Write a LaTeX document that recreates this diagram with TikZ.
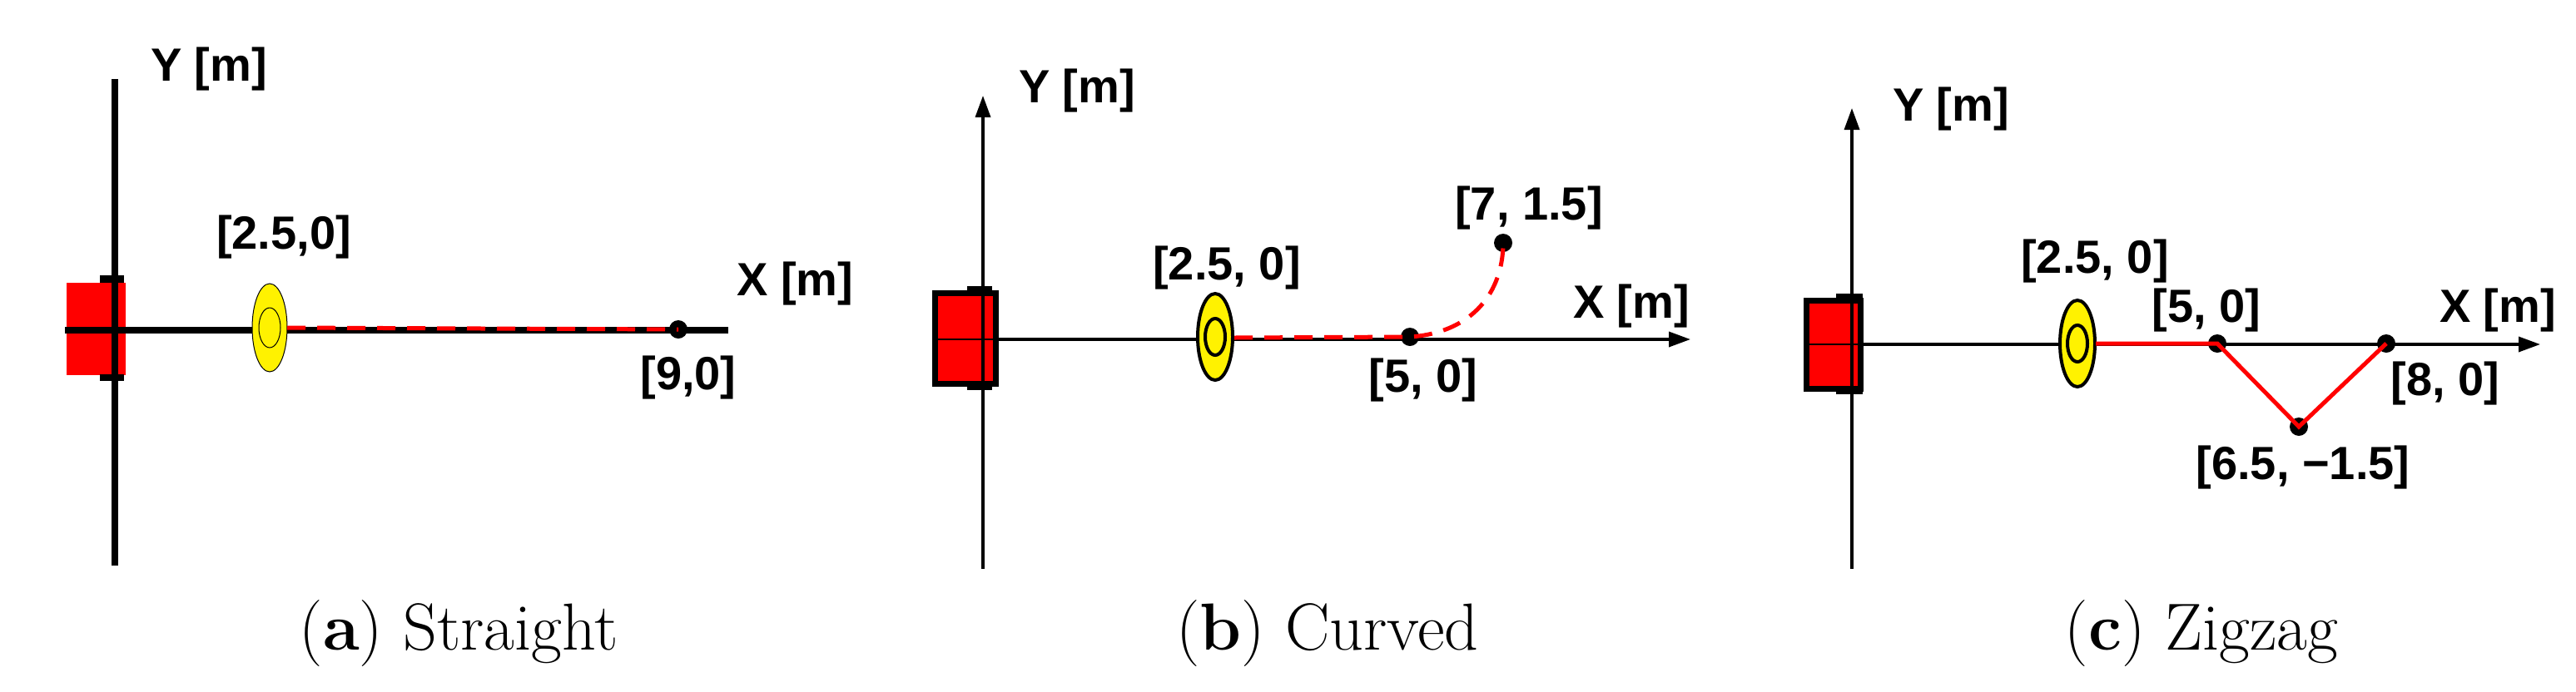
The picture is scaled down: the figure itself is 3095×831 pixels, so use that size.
\documentclass[tikz,border=0pt]{standalone}
\usepackage{fontspec}
\newfontfamily\lab{Liberation Sans}
\usetikzlibrary{arrows.meta}
\tikzset{
 lbl/.style={font=\lab\bfseries\fontsize{56}{60}\selectfont, inner sep=0pt},
 captxt/.style={font=\fontsize{80}{90}\selectfont, inner sep=0pt},
 dotp/.style={circle, fill=black, minimum size=22pt, inner sep=0pt},
 thinax/.style={line width=3.5pt, -{Triangle[length=26pt,width=18pt]}},
 rdash/.style={red, line width=5pt, dash pattern=on 22pt off 14pt},
 rsol/.style={red, line width=5pt},
 tab/.style={fill=black, draw=none},
}
\begin{document}
\begin{tikzpicture}[x=1pt,y=-1pt]
\useasboundingbox (0,0) rectangle (3095,831);
% ---------- (a)
\fill[red] (80,340) rectangle (151,451);
\fill[tab] (120,331) rectangle (149,340);
\fill[tab] (120,450) rectangle (149,458);
\draw[line width=8pt] (138,95) -- (138,680);
\draw[line width=8pt] (78,397) -- (875,397);
\draw[fill=yellow, line width=1pt] (324,394) ellipse (21 and 53);
\draw[line width=1pt] (324,394) ellipse (13 and 24);
\node[dotp] (a9) at (815,396) {};
\coordinate (ae) at (345,394);
\draw[rdash] (ae) -- (a9.center);
\node[lbl] (ay) at (251,83) {Y [m]};
\node[lbl] (ap) at (341,285) {[2.5,0]};
\node[lbl, anchor=west] (ax) at (885,341) {X [m]};
\node[lbl] (a9l) at (827,454) {[9,0]};
\node[captxt] (acap) at (551,762) {(\textbf{a}) Straight};
% ---------- (b)
\draw[fill=red, line width=7pt] (1123,352) rectangle (1196,461);
\fill[tab] (1162,344) rectangle (1192,352);
\fill[tab] (1162,461) rectangle (1192,469);
\draw[line width=2pt] (1123,408) -- (1196,408);
\draw[thinax] (1181,684) -- (1181,115);
\draw[thinax] (1196,408) -- (2031,408);
\draw[fill=yellow, line width=4pt] (1460,405) ellipse (21 and 52);
\draw[line width=4pt] (1460,405) ellipse (12 and 22);
\node[dotp] (b5) at (1694,405) {};
\node[dotp] (b7) at (1806,292) {};
\coordinate (be) at (1483,406);
\draw[rdash] (be) -- (b5.center) .. controls (1770,400) and (1806,350) .. (b7.center);
\node[lbl] (by) at (1294,109) {Y [m]};
\node[lbl] (bp) at (1474,322) {[2.5, 0]};
\node[lbl] (b7l) at (1837,250) {[7, 1.5]};
\node[lbl] (bx) at (1960,368) {X [m]};
\node[lbl] (b5l) at (1710,457) {[5, 0]};
\node[captxt] (bcap) at (1595,762) {(\textbf{b}) Curved};
% ---------- (c)
\draw[fill=red, line width=7pt] (2170,361) rectangle (2235,467);
\fill[tab] (2206,353) rectangle (2238,361);
\fill[tab] (2206,467) rectangle (2238,474);
\draw[line width=2pt] (2170,414) -- (2235,414);
\draw[thinax] (2225,684) -- (2225,130);
\draw[thinax] (2235,414) -- (3052,414);
\draw[fill=yellow, line width=4pt] (2496,413) ellipse (21 and 52);
\draw[line width=4pt] (2496,413) ellipse (12 and 22);
\node[dotp] (c5) at (2664,413) {};
\node[dotp] (c6) at (2762,513) {};
\node[dotp] (c8) at (2867,413) {};
\coordinate (ce) at (2518,413);
\draw[rsol] (ce) -- (c5.center) -- (c6.center) -- (c8.center);
\node[lbl] (cy) at (2344,131) {Y [m]};
\node[lbl] (cp) at (2517,314) {[2.5, 0]};
\node[lbl] (c5l) at (2651,373) {[5, 0]};
\node[lbl] (cx) at (3001,373) {X [m]};
\node[lbl] (c8l) at (2938,461) {[8, 0]};
\node[lbl] (c6l) at (2767,562) {[6.5, \textminus1.5]};
\node[captxt] (ccap) at (2645,762) {(\textbf{c}) Zigzag};
\end{tikzpicture}
\end{document}
